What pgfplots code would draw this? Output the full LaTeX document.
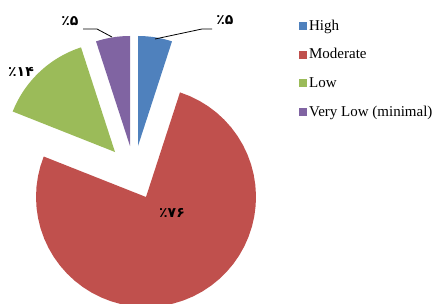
\documentclass[border=0pt]{standalone}
\usepackage{pgfplots}
\pgfplotsset{compat=1.18}
\usepackage{fontspec}
\setmainfont{Liberation Serif}
\newfontfamily\pfont{DejaVu Sans}
\definecolor{cHigh}{HTML}{4F81BD}
\definecolor{cMod}{HTML}{C0504D}
\definecolor{cLow}{HTML}{9BBB59}
\definecolor{cVL}{HTML}{8064A2}
% #1 colour, #2 cx, #3 cy (vertex of exploded slice), #4 start (%), #5 value (%), #6 legend
\newcommand{\pieslice}[6]{%
\addplot[fill=#1, draw=none, variable=\t, samples at={-1,0,2,...,100}]
 ({#2 + ((\t<0) ? 0 : 110)*sin(3.6*(#4 + (#5)*max(\t,0)/100))},
  {#3 - ((\t<0) ? 0 : 110)*cos(3.6*(#4 + (#5)*max(\t,0)/100))});
\addlegendentry{#6}
}
\begin{document}
\begin{tikzpicture}
\begin{axis}[
  scale only axis, width=443bp, height=304bp,
  xmin=0, xmax=443, ymin=0, ymax=304, y dir=reverse,
  axis line style={draw=none}, xtick=\empty, ytick=\empty,
  legend style={at={(0.668,0.949)}, anchor=north west, draw=none, fill=none,
    font=\fontsize{15bp}{17bp}\selectfont, row sep=13bp},
  legend cell align=left,
  legend image code/.code={\fill[#1] (0bp,-4bp) rectangle (8bp,4bp);},
]
\pieslice{cHigh}{138}{146}{0}{5}{High}
\pieslice{cMod}{146}{197}{5}{76}{Moderate}
\pieslice{cLow}{115}{152}{81}{14}{Low}
\pieslice{cVL}{130}{146}{95}{5}{Very Low (minimal)}
\addplot[black, line width=0.8bp, forget plot] coordinates {(155,39) (202,29) (212,29)};
\addplot[black, line width=0.8bp, forget plot] coordinates {(112,37) (97,29) (83,29)};
\node[font=\pfont\bfseries\fontsize{14bp}{14bp}\selectfont] at (axis cs:225,20) {٪۵};
\node[font=\pfont\bfseries\fontsize{14bp}{14bp}\selectfont] at (axis cs:70,21) {٪۵};
\node[font=\pfont\bfseries\fontsize{14bp}{14bp}\selectfont] at (axis cs:21,72) {٪۱۴};
\node[font=\pfont\bfseries\fontsize{14bp}{14bp}\selectfont] at (axis cs:172,213) {٪۷۶};
\end{axis}
\end{tikzpicture}
\end{document}
